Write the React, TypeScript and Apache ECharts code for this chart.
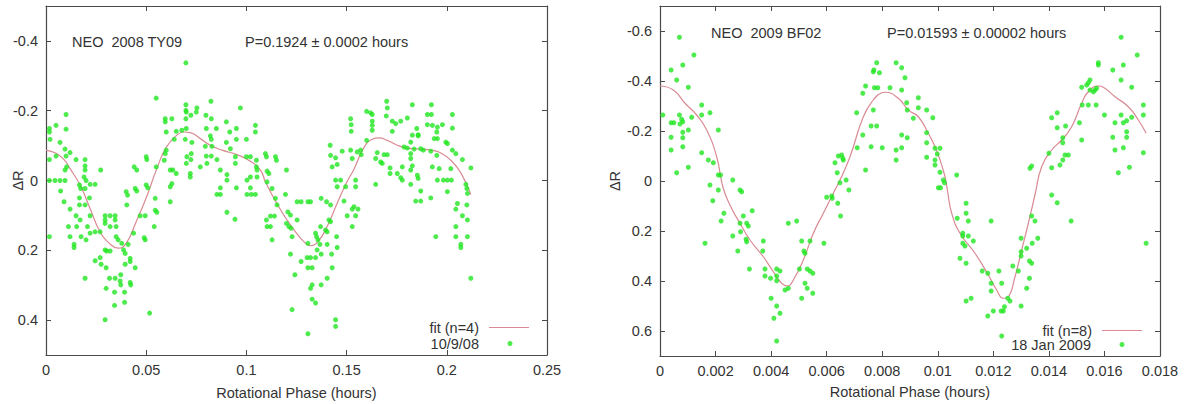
import React, { useEffect, useRef } from "react";
import * as echarts from "echarts";

// ---------- NEO 2008 TY09 ----------
const ty09Points: [number, number][] = [
  [0.055,-0.236],[0.010,-0.189],[0.005,-0.158],[0.0017,-0.149],[0.0017,-0.139],[0.002,-0.118],[0.010,-0.147],[0.007,-0.109],[0.0095,-0.090],[0.012,-0.080],[0.0017,-0.060],[0.005,-0.070],[0.010,-0.070],[0.015,-0.060],[0.0195,-0.060],[0.0103,-0.039],[0.0095,-0.030],[0.0195,-0.042],[0.0195,-0.030],[0.0273,-0.030],[0.050,-0.068],[0.0503,-0.060],[0.044,-0.039],[0.0453,-0.030],[0.055,-0.039],[0.0017,0],[0.0045,0],[0.007,0],[0.0095,0],[0.019,-0.010],[0.020,0],[0.0167,0.013],[0.0173,0.023],[0.0195,0.023],[0.022,0.011],[0.0245,0.011],[0.0073,0.030],[0.0217,0.050],[0.0167,0.050],[0.009,0.061],[0.0167,0.070],[0.0195,0.070],[0.012,0.082],[0.015,0.101],[0.022,0.101],[0.040,0.032],[0.0407,0.042],[0.0445,0.023],[0.0453,0.030],[0.050,0.013],[0.0508,0.021],[0.0403,0.070],[0.0545,0.051],[0.0545,0.085],[0.0553,0.091],[0.0295,0.101],[0.032,0.101],[0.0345,0.101],[0.047,0.101],[0.0495,0.101],
  [0.0698,-0.337],[0.0823,-0.227],[0.097,-0.208],[0.0698,-0.217],[0.0698,-0.201],[0.070,-0.196],[0.0753,-0.208],[0.075,-0.196],[0.0723,-0.187],[0.0595,-0.177],[0.0595,-0.168],[0.0628,-0.177],[0.0698,-0.177],[0.0798,-0.187],[0.0825,-0.177],[0.090,-0.168],[0.1045,-0.158],[0.1045,-0.139],[0.060,-0.139],[0.065,-0.141],[0.0678,-0.144],[0.070,-0.149],[0.080,-0.149],[0.085,-0.149],[0.0917,-0.139],[0.095,-0.149],[0.082,-0.128],[0.0825,-0.118],[0.064,-0.118],[0.0695,-0.118],[0.0728,-0.109],[0.090,-0.109],[0.095,-0.118],[0.100,-0.118],[0.060,-0.087],[0.0595,-0.077],[0.0795,-0.098],[0.0828,-0.098],[0.092,-0.091],[0.0725,-0.077],[0.0945,-0.068],[0.059,-0.058],[0.0703,-0.068],[0.0723,-0.060],[0.080,-0.070],[0.0825,-0.070],[0.0853,-0.060],[0.100,-0.068],[0.102,-0.068],[0.105,-0.058],[0.1095,-0.077],[0.110,-0.068],[0.1145,-0.068],[0.115,-0.058],[0.070,-0.049],[0.0803,-0.049],[0.077,-0.039],[0.0945,-0.049],[0.105,-0.039],[0.1053,-0.030],[0.062,-0.030],[0.0633,-0.030],[0.065,-0.020],[0.087,-0.030],[0.1103,-0.027],[0.1112,-0.020],[0.072,-0.020],[0.072,-0.010],[0.0903,-0.017],[0.0903,-0.001],[0.102,-0.010],[0.1053,-0.010],[0.1003,-0.001],[0.0628,0.009],[0.062,0.018],[0.087,0.021],[0.095,0.021],[0.102,0.021],[0.1103,0.004],[0.1128,0.023],[0.0853,0.040],[0.087,0.040],[0.1003,0.040],[0.1025,0.040],[0.1045,0.040],
  [0.170,-0.227],[0.1703,-0.208],[0.1828,-0.217],[0.1923,-0.217],[0.160,-0.198],[0.162,-0.194],[0.1628,-0.189],[0.1628,-0.170],[0.1628,-0.158],[0.1628,-0.144],[0.152,-0.177],[0.1523,-0.160],[0.1523,-0.141],[0.1698,-0.185],[0.1728,-0.170],[0.1745,-0.163],[0.177,-0.170],[0.1803,-0.179],[0.1728,-0.141],[0.185,-0.149],[0.1857,-0.131],[0.1903,-0.189],[0.1923,-0.189],[0.1903,-0.160],[0.1928,-0.158],[0.1953,-0.153],[0.195,-0.139],[0.1978,-0.160],[0.2028,-0.189],[0.2028,-0.150],[0.1937,-0.120],[0.1953,-0.120],[0.1828,-0.130],[0.1857,-0.128],[0.182,-0.110],[0.160,-0.115],[0.157,-0.087],[0.1573,-0.074],[0.1553,-0.082],[0.152,-0.087],[0.1528,-0.063],[0.1653,-0.080],[0.1687,-0.074],[0.1703,-0.074],[0.1787,-0.096],[0.1803,-0.093],[0.1837,-0.090],[0.187,-0.091],[0.1883,-0.087],[0.192,-0.084],[0.195,-0.072],[0.1995,-0.110],[0.2003,-0.106],[0.2028,-0.087],[0.2045,-0.077],[0.2078,-0.060],[0.1478,-0.084],[0.1445,-0.065],[0.142,-0.072],[0.1645,-0.063],[0.167,-0.053],[0.1678,-0.049],[0.182,-0.077],[0.182,-0.063],[0.1828,-0.042],[0.182,-0.030],[0.1778,-0.039],[0.1717,-0.036],[0.1717,-0.020],[0.1753,-0.020],[0.177,-0.008],[0.1778,-0.001],[0.1853,-0.015],[0.1857,-0.006],[0.1928,-0.039],[0.1962,-0.034],[0.202,-0.034],[0.212,-0.036],[0.1453,-0.046],[0.1428,-0.039],[0.1445,-0.001],[0.147,-0.001],[0.1453,0.018],[0.1495,0.018],[0.1545,-0.001],[0.1545,0.018],[0.1645,0.011],[0.182,0.011],[0.1953,-0.001],[0.1983,-0.001],[0.2003,-0.001],[0.2023,-0.001],[0.2095,0.011],[0.210,0.023],[0.2103,0.037],[0.187,0.030],[0.1845,0.059],[0.187,0.059],[0.192,0.050],[0.2003,0.032],[0.1487,0.059],[0.1537,0.075],[0.2053,0.066],[0.1418,-0.101],[0.210,0.070],
  [0.120,-0.030],[0.1195,0.040],[0.1145,0.051],[0.1153,0.070],[0.1253,0.061],[0.1273,0.061],[0.1307,0.061],[0.132,0.061],[0.1373,0.051],[0.140,0.061],[0.142,0.070],[0.0943,0.111],[0.110,0.113],[0.112,0.102],[0.114,0.102],[0.1103,0.132],[0.112,0.132],[0.1207,0.090],[0.122,0.099],[0.120,0.123],[0.1212,0.132],[0.1223,0.137],[0.1253,0.113],[0.1228,0.161],[0.1128,0.170],[0.1307,0.180],[0.1345,0.151],[0.135,0.161],[0.1357,0.170],[0.137,0.132],[0.1395,0.142],[0.1403,0.147],[0.1412,0.113],[0.142,0.118],[0.1367,0.183],[0.1353,0.199],[0.1373,0.211],[0.1345,0.221],[0.1403,0.183],[0.1425,0.211],[0.145,0.161],[0.1453,0.192],[0.122,0.211],[0.1273,0.232],[0.1303,0.221],[0.132,0.221],[0.1307,0.250],[0.1328,0.250],[0.1428,0.250],[0.1242,0.270],[0.1403,0.280],[0.1328,0.299],[0.132,0.309],[0.1373,0.299],[0.1328,0.340],[0.1345,0.351],[0.1228,0.370],[0.1445,0.399],[0.1445,0.418],[0.1307,0.439],
  [0.0295,0.113],[0.0345,0.113],[0.0295,0.123],[0.017,0.113],[0.0112,0.132],[0.0153,0.132],[0.0207,0.132],[0.032,0.132],[0.035,0.132],[0.054,0.132],[0.0437,0.151],[0.022,0.151],[0.0245,0.147],[0.027,0.147],[0.0017,0.161],[0.012,0.161],[0.0175,0.161],[0.035,0.161],[0.049,0.164],[0.0495,0.170],[0.020,0.170],[0.036,0.170],[0.0378,0.180],[0.014,0.183],[0.014,0.192],[0.041,0.183],[0.0303,0.202],[0.032,0.202],[0.0295,0.199],[0.0395,0.209],[0.0387,0.199],[0.042,0.223],[0.042,0.232],[0.0245,0.230],[0.027,0.221],[0.0275,0.240],[0.030,0.250],[0.0395,0.240],[0.0445,0.250],[0.0195,0.280],[0.0317,0.280],[0.0345,0.280],[0.0373,0.270],[0.037,0.288],[0.0373,0.299],[0.042,0.292],[0.0423,0.299],[0.030,0.309],[0.0342,0.320],[0.0392,0.320],[0.0342,0.358],[0.0392,0.349],[0.0517,0.380],[0.0295,0.399],[0.062,0.061],[0.0903,0.091],
  [0.1528,0.082],[0.1557,0.082],[0.1503,0.101],[0.1545,0.101],[0.1528,0.132],[0.2078,0.101],[0.2103,0.113],[0.2045,0.132],[0.2045,0.082],[0.1945,0.161],[0.2045,0.161],[0.2103,0.161],[0.207,0.183],[0.207,0.192],[0.212,0.280]
];

const ty09Fit: [number, number][] = [
  [0,-0.087],[0.005,-0.078],[0.009,-0.06],[0.012,-0.034],[0.017,0.013],[0.022,0.08],[0.027,0.147],[0.032,0.182],[0.036,0.194],[0.040,0.18],[0.045,0.118],[0.0505,0.042],[0.0553,-0.034],[0.060,-0.095],[0.0653,-0.13],[0.0687,-0.139],[0.072,-0.137],[0.077,-0.12],[0.082,-0.101],[0.0878,-0.087],[0.0953,-0.074],[0.102,-0.055],[0.107,-0.030],[0.1095,0.004],[0.1137,0.051],[0.1187,0.099],[0.1245,0.147],[0.1295,0.180],[0.132,0.187],[0.1357,0.175],[0.1403,0.132],[0.1453,0.065],[0.1505,0.0],[0.1535,-0.03],[0.1587,-0.095],[0.1628,-0.118],[0.1662,-0.122],[0.1703,-0.115],[0.1753,-0.101],[0.1803,-0.093],[0.187,-0.090],[0.192,-0.087],[0.197,-0.079],[0.202,-0.058],[0.207,-0.022],[0.212,0.040]
];

// ---------- NEO 2009 BF02 ----------
const bf02Points: [number, number][] = [
  [0.0007,-0.575],[0.00122,-0.504],[0.0004,-0.444],[0.00082,-0.464],[0.0006,-0.404],[0.00102,-0.375],[0.0001,-0.264],[0.0004,-0.233],[0.0005,-0.233],[0.0007,-0.264],[0.00078,-0.247],[0.00082,-0.237],[0.00072,-0.228],[0.00102,-0.204],[0.00082,-0.195],[0.00082,-0.173],[0.00082,-0.137],[0.0004,-0.175],[0.0004,-0.124],[0.00114,-0.255],[0.0015,-0.304],[0.0015,-0.264],[0.0018,-0.273],[0.0021,-0.204],[0.0015,-0.113],[0.00174,-0.084],[0.00192,-0.073],[0.00102,-0.055],[0.0006,-0.033],[0.0021,-0.024],[0.00218,-0.024],[0.00262,-0.004],[0.0018,0.016],
  [0.0063,-0.073],[0.00642,-0.1],[0.00654,-0.104],[0.00658,-0.091],[0.0066,-0.084],[0.00638,-0.033],[0.00648,0.007],[0.0067,-0.004],
  [0.00708,-0.273],[0.0071,-0.133],[0.0073,-0.351],[0.0074,-0.38],[0.0073,-0.184],[0.0074,-0.044],[0.0076,-0.137],[0.0076,-0.22],[0.00768,-0.284],[0.00768,-0.437],[0.0077,-0.444],[0.00772,-0.373],[0.00784,-0.373],[0.0078,-0.473],[0.0079,-0.433],[0.0078,-0.22],[0.0080,-0.133],[0.00828,-0.373],
  [0.0085,-0.473],[0.0087,-0.453],[0.00882,-0.413],[0.0087,-0.364],[0.00888,-0.313],[0.0089,-0.284],[0.00912,-0.251],[0.0093,-0.333],[0.0093,-0.293],[0.0096,-0.284],[0.00982,-0.253],[0.0087,-0.184],[0.0089,-0.173],[0.0085,-0.124],[0.0087,-0.133],[0.0085,-0.084],[0.0096,-0.193],[0.0096,-0.153],[0.0096,-0.095],[0.0099,-0.131],[0.01008,-0.131],[0.0099,-0.084],[0.0099,-0.064],[0.00998,-0.108],[0.01008,-0.035],[0.0102,-0.004],[0.01024,0.007],[0.01002,0.027],[0.0101,0.027],[0.01068,-0.024],
  [0.01332,-0.051],[0.01338,-0.06],[0.0140,-0.111],[0.0141,-0.253],[0.0143,-0.273],[0.0143,-0.213],[0.0141,-0.053],[0.0144,-0.064],[0.0145,-0.084],[0.0145,-0.153],[0.0145,-0.173],[0.0146,-0.22],[0.01458,-0.104],[0.0147,-0.104],[0.0151,-0.233],[0.01518,-0.164],[0.01518,-0.375],[0.01536,-0.384],[0.01542,-0.393],[0.01548,-0.404],[0.01548,-0.364],[0.0156,-0.357],[0.01566,-0.364],[0.01572,-0.371],[0.0152,-0.304],[0.01542,-0.304],[0.0157,-0.304],[0.01578,-0.473],[0.01578,-0.464],[0.0160,-0.264],[0.0163,-0.444],[0.0166,-0.575],[0.01668,-0.464],[0.0166,-0.404],[0.01698,-0.375],[0.01718,-0.504],[0.01638,-0.233],[0.0166,-0.264],[0.01668,-0.233],[0.0168,-0.241],[0.01698,-0.255],[0.0163,-0.175],[0.0168,-0.197],[0.0168,-0.175],[0.01668,-0.133],[0.01638,-0.124],[0.0174,-0.304],[0.0174,-0.264],[0.0174,-0.113],[0.0169,-0.055],[0.0165,-0.033],
  [0.0021,0.036],[0.00288,0.036],[0.00294,0.043],[0.0019,0.079],[0.0023,0.129],[0.0022,0.160],[0.00162,0.249],[0.003,0.140],[0.00332,0.119],[0.00288,0.169],[0.00312,0.169],[0.00318,0.180],[0.0029,0.203],[0.00262,0.220],[0.0031,0.233],[0.00312,0.243],[0.0028,0.280],[0.00322,0.352],[0.00372,0.240],[0.0037,0.280],[0.00378,0.352],[0.00378,0.380],[0.00398,0.389],[0.0042,0.352],[0.00432,0.360],[0.0042,0.380],[0.0042,0.399],[0.004,0.469],[0.0042,0.500],[0.00432,0.529],[0.0041,0.549],[0.0042,0.640],[0.0045,0.436],[0.00462,0.429],[0.00462,0.169],[0.00492,0.160],[0.00502,0.352],[0.0051,0.240],[0.00518,0.280],[0.00522,0.289],[0.0054,0.240],[0.0053,0.352],[0.0054,0.360],[0.0055,0.369],[0.00522,0.409],[0.0053,0.429],[0.0051,0.469],[0.0055,0.449],[0.0059,0.249],[0.006,0.065],[0.00618,0.06],[0.0062,0.069],[0.0064,0.089],[0.0065,0.140],[0.0068,0.036],
  [0.0141,0.056],[0.0143,0.087],[0.01102,0.089],[0.01102,0.129],[0.0111,0.160],[0.0107,0.149],[0.01192,0.160],[0.0109,0.209],[0.0109,0.220],[0.0111,0.220],[0.01128,0.240],[0.0109,0.249],[0.01098,0.260],[0.0108,0.309],[0.01102,0.329],[0.01102,0.480],[0.0112,0.469],[0.0116,0.360],[0.0118,0.369],[0.01192,0.409],[0.01192,0.440],[0.0122,0.360],[0.0123,0.409],[0.0127,0.340],[0.0129,0.360],[0.01252,0.469],[0.0126,0.480],[0.0124,0.503],[0.01228,0.520],[0.01236,0.520],[0.0120,0.520],[0.0118,0.540],[0.0123,0.620],[0.0130,0.500],[0.0130,0.229],[0.0130,0.283],[0.0130,0.300],[0.0132,0.269],[0.01338,0.140],[0.0135,0.160],[0.0134,0.249],[0.0136,0.229],[0.0133,0.320],[0.01338,0.329],[0.0133,0.389],[0.0132,0.429],[0.0148,0.160],[0.0175,0.249]
];

const bf02Fit: [number, number][] = [
  [0,-0.38],[0.00048,-0.364],[0.0009,-0.311],[0.00132,-0.264],[0.00168,-0.204],[0.00204,-0.097],[0.00228,0.03],[0.00258,0.11],[0.00288,0.169],[0.00324,0.236],[0.00372,0.303],[0.00408,0.363],[0.00438,0.409],[0.0046,0.42],[0.0048,0.396],[0.00516,0.316],[0.00552,0.209],[0.00588,0.129],[0.00624,0.049],[0.00648,-0.004],[0.00684,-0.097],[0.00732,-0.257],[0.00768,-0.324],[0.00798,-0.353],[0.0081,-0.355],[0.00858,-0.331],[0.00894,-0.284],[0.0093,-0.257],[0.00966,-0.191],[0.0099,-0.137],[0.01008,-0.084],[0.01026,-0.017],[0.01035,0.04],[0.0105,0.129],[0.0108,0.209],[0.01134,0.289],[0.01182,0.376],[0.01212,0.436],[0.01236,0.469],[0.01254,0.463],[0.01278,0.383],[0.01302,0.276],[0.01326,0.169],[0.0135,0.055],[0.01374,-0.057],[0.0141,-0.124],[0.01446,-0.164],[0.01482,-0.217],[0.01518,-0.311],[0.01542,-0.357],[0.01578,-0.38],[0.01596,-0.375],[0.01638,-0.337],[0.01686,-0.297],[0.01722,-0.244],[0.0175,-0.191]
];

const ty09YTicks = [-0.4, -0.2, 0, 0.2, 0.4];
const bf02YTicks = [-0.6, -0.4, -0.2, 0, 0.2, 0.4, 0.6];

const seriesNames = {
  ty09Fit: "fit (n=4)",
  ty09Data: "10/9/08",
  bf02Fit: "fit (n=8)",
  bf02Data: "18 Jan 2009",
};

const FONT = '"Liberation Sans", Arial, Helvetica, sans-serif';
const FS = 14.5;
const TEXT = "#333333";
const AXIS = "#4a4a4a";
const GREEN = "#22e622";
const PINK = "#d98a94";

export default function App() {
  const ref = useRef<HTMLDivElement>(null);
  useEffect(() => {
    document.body.style.margin = "0";
    if (!ref.current) return;
    const chart = echarts.init(ref.current, null, { renderer: "svg" });

    const axLine = { show: true, onZero: false, lineStyle: { color: AXIS, width: 1.2 } };
    const lbl = (margin: number, extra: any = {}) => ({
      margin,
      color: TEXT,
      fontSize: FS,
      fontFamily: FONT,
      ...extra,
    });
    const tick = (extra: any = {}) => ({ inside: true, length: 5, lineStyle: { color: AXIS }, ...extra });

    const xPair = (grid: number, max: number, interval: number, gap: number) => [
      {
        type: "value", gridIndex: grid, min: 0, max, interval, position: "bottom",
        axisLine: axLine, axisTick: tick(), axisLabel: lbl(7), splitLine: { show: false },
        name: "Rotational Phase (hours)", nameLocation: "middle", nameGap: gap, nameMoveOverlap: false,
        nameTextStyle: { color: TEXT, fontSize: FS, fontFamily: FONT },
      },
      {
        type: "value", gridIndex: grid, min: 0, max, interval, position: "top",
        axisLine: axLine, axisTick: tick(), axisLabel: { show: false }, splitLine: { show: false },
      },
    ];
    const yPair = (grid: number, lim: number, ticks: number[], gap: number) => [
      {
        type: "value", gridIndex: grid, min: -lim, max: lim, inverse: true, position: "left",
        axisLine: axLine, axisTick: tick({ customValues: ticks }),
        axisLabel: lbl(8, { customValues: ticks }), splitLine: { show: false },
        name: "ΔR", nameLocation: "middle", nameRotate: 90, nameGap: gap, nameMoveOverlap: false,
        nameTextStyle: { color: TEXT, fontSize: FS, fontFamily: FONT },
      },
      {
        type: "value", gridIndex: grid, min: -lim, max: lim, inverse: true, position: "right",
        axisLine: axLine, axisTick: tick({ customValues: ticks }),
        axisLabel: { show: false, customValues: ticks }, splitLine: { show: false },
      },
    ];

    const legendRow = (name: string, icon: string, itemHeight: number, right: number, top: number, textGap: number) => ({
      data: [{ name, icon }],
      orient: "vertical",
      align: "right",
      right,
      top,
      padding: 0,
      itemWidth: 40,
      itemHeight,
      selectedMode: false,
      textStyle: { color: TEXT, fontSize: FS, fontFamily: FONT, lineHeight: 14, padding: [0, textGap, 0, 0] },
    });

    const txt = (text: string, x: number, y: number) => ({
      type: "text", x, y, silent: true,
      style: { text, fill: TEXT, fontSize: FS, fontFamily: FONT, verticalAlign: "middle" },
    });

    chart.setOption({
      animation: false,
      backgroundColor: "#ffffff",
      grid: [
        { left: 46, top: 6, width: 501, height: 349, outerBoundsMode: "none", containLabel: false },
        { left: 660, top: 6, width: 500, height: 350, outerBoundsMode: "none", containLabel: false },
      ],
      xAxis: [...xPair(0, 0.25, 0.05, 30), ...xPair(1, 0.018, 0.002, 28)],
      yAxis: [...yPair(0, 0.5, ty09YTicks, 21), ...yPair(1, 0.7, bf02YTicks, 38)],
      legend: [
        legendRow(seriesNames.ty09Fit, "rect", 1.2, 656, 320, 5),
        legendRow(seriesNames.ty09Data, "circle", 5, 672.5, 336, 6),
        legendRow(seriesNames.bf02Fit, "rect", 1.2, 43, 323, 5),
        legendRow(seriesNames.bf02Data, "circle", 5, 60.5, 337, 6),
      ],
      graphic: [
        txt("NEO  2008 TY09", 72, 42),
        txt("P=0.1924 ± 0.0002 hours", 245, 42),
        txt("NEO  2009 BF02", 711, 33),
        txt("P=0.01593 ± 0.00002 hours", 887, 33),
      ],
      series: [
        {
          name: seriesNames.ty09Fit, type: "line", xAxisIndex: 0, yAxisIndex: 0,
          data: ty09Fit, smooth: true, symbol: "none", showSymbol: false,
          lineStyle: { color: PINK, width: 1.2 }, itemStyle: { color: PINK }, z: 2,
        },
        {
          name: seriesNames.ty09Data, type: "scatter", xAxisIndex: 0, yAxisIndex: 0,
          data: ty09Points, symbol: "circle", symbolSize: 5,
          itemStyle: { color: GREEN }, z: 3,
        },
        {
          name: seriesNames.bf02Fit, type: "line", xAxisIndex: 2, yAxisIndex: 2,
          data: bf02Fit, smooth: true, symbol: "none", showSymbol: false,
          lineStyle: { color: PINK, width: 1.2 }, itemStyle: { color: PINK }, z: 2,
        },
        {
          name: seriesNames.bf02Data, type: "scatter", xAxisIndex: 2, yAxisIndex: 2,
          data: bf02Points, symbol: "circle", symbolSize: 5,
          itemStyle: { color: GREEN }, z: 3,
        },
      ],
    });
    return () => chart.dispose();
  }, []);
  return <div ref={ref} style={{ width: 1185, height: 404 }} />;
}
